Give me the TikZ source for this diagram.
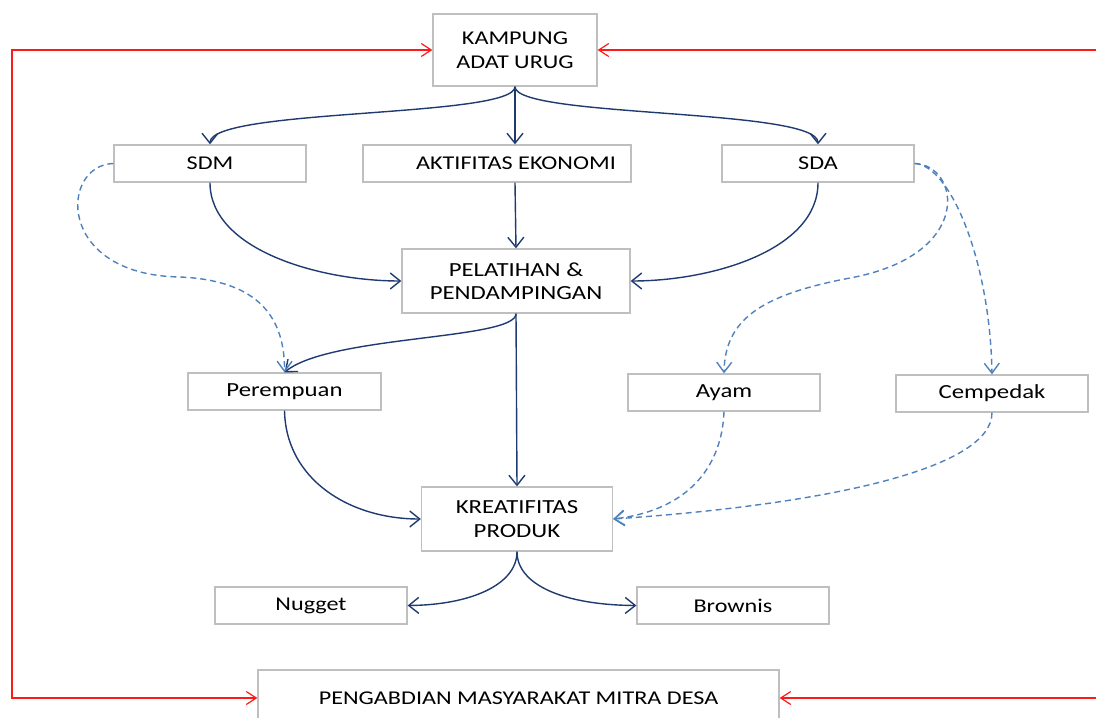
\documentclass[tikz,border=0pt]{standalone}
\usepackage{fontspec}
\setmainfont{Carlito}[FakeStretch=1.24]
\usetikzlibrary{arrows.meta}
\definecolor{navy}{HTML}{1F3A70}
\definecolor{dashblue}{HTML}{4F81BD}
\definecolor{boxgray}{HTML}{BFBFBF}
\definecolor{redline}{HTML}{FF1A1A}
\tikzset{redtip/.tip={Straight Barb[length=10pt,width=13pt]}}
\begin{document}
\begin{tikzpicture}[x=1pt,y=-1pt,
 box/.style={draw=boxgray, line width=1.3pt, fill=white, minimum width=192pt, minimum height=37pt, inner sep=0pt, align=center, text=black, font=\fontsize{19.5}{23.5}\selectfont},
 big/.style={font=\fontsize{20}{23.5}\selectfont},
 navyarr/.style={draw=navy, line width=1.4pt, -{Straight Barb[length=10pt,width=16pt]}},
 dasharr/.style={draw=dashblue, line width=1.4pt, dash pattern=on 6pt off 4pt, -{Straight Barb[length=10pt,width=15pt]}},
 redarr/.style={draw=redline, line width=1.2pt},
]
\useasboundingbox (0,0) rectangle (1096,718);
\node[box, minimum width=164pt, minimum height=72pt] (kam) at (515,50) {KAMPUNG\\ADAT URUG};
\node[box] (sdm) at (210,163.5) {SDM};
\node[box, minimum width=268pt] (ekon) at (497,163.5) {\hspace*{38pt}AKTIFITAS EKONOMI};
\node[box] (sda) at (818,163.5) {SDA};
\node[box, big, minimum width=228pt, minimum height=64pt] (pel) at (516,281) {PELATIHAN \&\\PENDAMPINGAN};
\node[box, big, minimum width=193pt] (per) at (284.5,391.5) {Perempuan};
\node[box, big] (ayam) at (724,392.5) {Ayam};
\node[box, big] (cem) at (992,393.5) {Cempedak};
\node[box, big, minimum width=191pt, minimum height=64pt] (kre) at (517,519) {KREATIFITAS\\PRODUK};
\node[box] (nug) at (311,605.5) {Nugget};
\node[box] (bro) at (733,605.5) {Brownis};
\node[box, minimum width=521pt, minimum height=56pt] (pen) at (518.5,698) {PENGABDIAN MASYARAKAT MITRA DESA};

\coordinate (L1) at (12,50);
\coordinate (L2) at (12,698);
\coordinate (R1) at (1096,50);
\coordinate (R2) at (1096,698);

% red frame
\draw[redarr, {redtip}-{redtip}] (kam.west) -- (L1) -- (L2) -- (pen.west);
\draw[redarr, -{redtip}] (R1) -- (kam.east);
\draw[redarr, -{redtip}] (R2) -- (pen.east);

% navy arrows
\draw[navyarr] (kam.south) .. controls (515,118) and (210,108) .. (sdm.north);
\draw[navyarr] (kam.south) -- (kam.south |- ekon.north);
\draw[navyarr] (kam.south) .. controls (515,118) and (818,108) .. (sda.north);
\draw[navyarr] (sdm.south) .. controls (210,250) and (320,281) .. (pel.west);
\draw[navyarr] (kam.south |- ekon.south) -- (pel.north);
\draw[navyarr] (sda.south) .. controls (818,250) and (712,281) .. (pel.east);
\draw[navyarr] (pel.south) .. controls (516,340) and (330,335) .. (per.north);
\draw[navyarr] (pel.south) -- (kre.north);
\draw[navyarr] (per.south) .. controls (286,480) and (350,519) .. (kre.west);
\draw[navyarr] (kre.south) .. controls (517,585) and (470,605) .. (nug.east);
\draw[navyarr] (kre.south) .. controls (517,585) and (564,605) .. (bro.west);

% dashed arrows
\draw[dasharr] (sdm.west) .. controls (60,165) and (55,275) .. (180,277) .. controls (250,280) and (285,310) .. (per.north);
\draw[dasharr] (sda.east) .. controls (960,165) and (975,255) .. (850,278) .. controls (760,295) and (725,320) .. (ayam.north);
\draw[dasharr] (sda.east) .. controls (950,165) and (990,260) .. (cem.north);
\draw[dasharr] (ayam.south) .. controls (722,465) and (690,510) .. (kre.east);
\draw[dasharr] (cem.south) .. controls (992,470) and (820,505) .. (kre.east);
\end{tikzpicture}
\end{document}
